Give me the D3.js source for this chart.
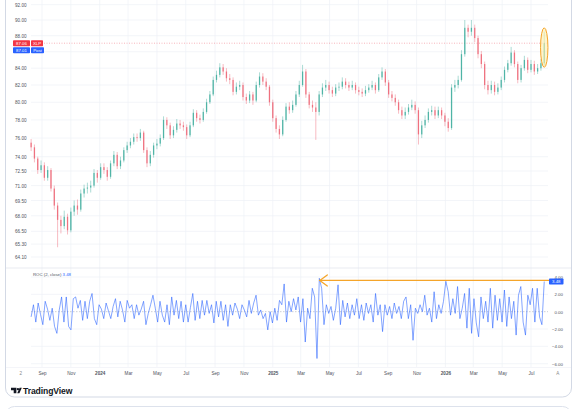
<!DOCTYPE html>
<html><head><meta charset="utf-8">
<script src="https://cdn.jsdelivr.net/npm/d3@7"></script>
<style>html,body{margin:0;padding:0;background:#fff;}svg{display:block;font-family:"Liberation Sans",Arial,sans-serif;}</style>
</head><body><svg id="c" width="577" height="409"></svg>
<script>
// ---- data ----
const firstWeek = "2023-08-09";
const symbol = "XLP";
const lastPrice = 87.06, postPrice = 87.01;
const open = [75.5,75.0,73.8,72.6,73.1,71.8,72.6,70.7,69.0,67.6,
67.0,67.9,66.6,68.4,69.0,68.6,70.2,70.7,70.8,71.0,
72.3,71.8,72.9,72.6,71.9,73.3,74.2,73.0,73.6,74.7,
75.2,75.6,76.1,76.0,76.6,74.7,73.3,74.2,75.2,75.4,
76.0,78.0,77.4,76.3,76.9,77.6,77.4,77.2,76.3,77.4,
78.8,78.2,78.0,78.9,80.0,80.9,82.6,83.2,84.1,83.6,
82.8,82.6,81.2,81.8,82.0,80.6,80.2,80.9,80.2,82.0,
83.0,82.4,81.8,80.0,78.2,77.0,76.4,78.0,79.5,79.1,
79.7,80.9,82.0,83.6,80.9,79.7,79.4,78.9,80.9,81.7,
82.0,81.4,81.0,81.7,81.8,82.4,82.0,81.7,82.0,81.4,
81.2,81.0,81.4,81.7,82.0,81.4,82.9,83.6,82.3,80.9,
80.5,80.0,79.1,78.5,78.9,79.4,79.7,79.1,76.4,77.4,
78.0,78.9,79.1,78.5,79.1,78.5,77.8,77.1,81.7,82.0,
82.6,85.7,89.0,88.5,89.0,87.7,85.7,84.5,82.0,81.4,
82.0,81.2,81.7,82.6,83.8,84.6,85.9,84.5,82.6,84.0,
85.0,83.8,84.5,83.6,84.0,84.6];
const high = [75.9,75.3,74.0,73.6,73.4,73.0,72.8,71.0,69.3,68.0,
68.5,68.2,68.8,69.5,69.6,70.6,71.1,71.3,71.5,72.7,
72.6,73.3,73.3,72.9,73.6,74.6,74.5,74.0,75.0,75.6,
76.0,76.5,76.5,77.0,76.8,75.0,74.6,75.5,75.9,76.4,
78.4,78.3,77.7,77.3,78.1,78.0,77.8,77.5,77.8,79.2,
79.1,78.6,79.3,80.4,81.3,83.0,83.7,84.6,84.5,84.0,
83.3,82.9,82.3,82.5,82.3,81.0,81.3,81.2,82.4,83.5,
83.4,82.8,82.0,80.3,78.5,77.4,78.4,79.9,80.0,80.2,
81.3,82.5,84.4,83.9,81.2,80.2,80.0,81.3,82.2,82.6,
82.4,81.8,82.1,82.3,82.9,82.8,82.4,82.5,82.3,81.8,
81.6,81.9,82.1,82.5,82.3,83.3,84.1,83.9,82.6,81.3,
80.9,80.3,79.5,79.4,79.8,80.3,80.1,79.4,77.9,78.5,
79.3,79.6,79.5,79.5,79.4,78.8,78.2,82.1,82.6,83.1,
86.2,90.0,89.4,90.0,89.4,88.0,86.1,84.8,82.5,82.5,
82.4,82.2,83.0,84.2,85.0,86.6,86.2,84.8,84.4,85.5,
85.3,85.0,84.9,84.5,85.1,88.5];
const low = [74.6,73.4,72.2,72.3,71.5,71.5,70.4,68.6,65.0,66.3,
66.7,66.2,66.4,68.0,68.1,68.4,69.8,70.2,70.3,70.8,
71.3,71.6,72.2,71.5,71.7,73.0,72.7,72.7,73.4,74.4,
74.9,75.3,75.6,75.7,74.4,72.9,73.0,73.9,74.8,75.1,
75.8,77.0,75.9,76.0,76.6,77.0,76.8,75.9,76.1,77.2,
77.8,77.6,77.8,78.7,79.8,80.7,82.3,82.9,83.2,82.4,
82.1,80.8,80.9,81.4,80.2,79.8,79.9,79.7,80.0,81.7,
82.0,81.4,79.6,77.8,76.6,75.9,76.2,77.8,78.7,78.8,
79.5,80.6,81.8,80.5,79.3,78.9,75.8,78.5,80.6,81.3,
81.0,80.6,80.7,81.3,81.5,81.6,81.3,81.4,81.0,80.8,
80.6,80.7,81.1,81.4,81.0,81.2,82.6,81.9,80.5,80.1,
79.6,78.7,78.1,78.1,78.6,79.1,78.7,75.3,76.0,77.1,
77.7,78.5,78.1,78.2,78.1,77.3,76.7,76.9,81.2,81.6,
82.4,85.4,87.8,88.0,87.2,85.2,84.0,81.5,80.9,81.0,
80.8,80.9,81.4,82.3,83.5,84.3,84.1,82.2,82.3,83.7,
83.4,83.5,83.2,83.3,83.7,84.3];
const close = [75.0,73.8,72.6,73.1,71.8,72.6,70.7,69.0,67.6,67.0,
67.9,66.6,68.4,69.0,68.6,70.2,70.7,70.8,71.0,72.3,
71.8,72.9,72.6,71.9,73.3,74.2,73.0,73.6,74.7,75.2,
75.6,76.1,76.0,76.6,74.7,73.3,74.2,75.2,75.4,76.0,
78.0,77.4,76.3,76.9,77.6,77.4,77.2,76.3,77.4,78.8,
78.2,78.0,78.9,80.0,80.9,82.6,83.2,84.1,83.6,82.8,
82.6,81.2,81.8,82.0,80.6,80.2,80.9,80.2,82.0,83.0,
82.4,81.8,80.0,78.2,77.0,76.4,78.0,79.5,79.1,79.7,
80.9,82.0,83.6,80.9,79.7,79.4,78.9,80.9,81.7,82.0,
81.4,81.0,81.7,81.8,82.4,82.0,81.7,82.0,81.4,81.2,
81.0,81.4,81.7,82.0,81.4,82.9,83.6,82.3,80.9,80.5,
80.0,79.1,78.5,78.9,79.4,79.7,79.1,76.4,77.4,78.0,
78.9,79.1,78.5,79.1,78.5,77.8,77.1,81.7,82.0,82.6,
85.7,89.0,88.5,89.0,87.7,85.7,84.5,82.0,81.4,82.0,
81.2,81.7,82.6,83.8,84.6,85.9,84.5,82.6,84.0,85.0,
83.8,84.5,83.6,84.0,84.6,87.06];
const roc = [-0.6,0.8,-1.2,1.0,-0.3,-1.5,1.2,0.3,-1.0,0.4,
-1.7,-2.5,0.2,1.7,-1.2,1.7,-1.7,-2.1,1.5,1.7,
0.4,1.3,-1.0,1.2,-0.8,1.2,2.1,-0.8,-1.5,0.8,
0.3,-0.8,1.0,0.1,-0.8,0.6,1.5,-0.6,1.2,0.2,-1.2,
1.3,0.4,0.8,-0.8,0.8,-0.4,0.3,1.2,-1.5,-0.2,
0.8,1.9,0.4,-1.2,1.2,-0.4,-1.2,0.8,-1.5,1.7,
-0.4,1.3,-0.8,1.2,-1.2,0.8,-1.2,0.5,2.1,-1.0,
1.2,-0.8,1.3,-0.4,1.3,-0.2,0.8,-1.3,1.2,-0.6,
1.2,-1.0,0.8,-1.7,0.8,-0.4,1.0,0.3,-0.8,0.8,0.2,
-0.6,1.3,-0.2,1.0,1.9,-0.4,0.2,-0.8,-0.2,-2.1,
0.0,-1.3,0.4,-1.0,1.3,0.8,3.2,-1.2,1.2,0.0,
1.5,
0.2,1.7,-1.2,1.5,-3.5,0.4,-0.8,2.7,1.7,-5.4,
3.85,2.7,-1.5,0.8,-0.2,0.6,-1.0,0.4,3.1,-1.5,
1.3,-0.6,1.0,-0.8,0.8,-0.4,1.5,-0.8,0.8,-1.0,
1.0,-0.2,0.8,-1.2,2.1,-0.4,0.8,-2.3,0.8,-0.4,
0.6,-0.8,1.0,-0.2,0.6,-0.8,1.2,1.7,-0.8,0.8,
-3.3,0.4,-0.2,0.8,0.0,1.9,-0.4,0.4,-1.2,2.3,
-0.8,0.8,-0.2,1.2,3.5,2.3,-0.4,1.5,-0.2,2.9,
-0.8,0.4,2.1,-1.9,2.7,-2.5,1.5,-1.3,-2.9,1.7,
-0.8,1.2,-1.2,2.7,-1.9,1.9,-1.0,1.5,-1.2,2.5,
-1.7,1.7,-0.8,1.2,-2.7,1.9,2.9,-1.2,-2.7,1.9,
0.8,2.7,-1.2,2.7,-0.6,-1.5,3.48];
const priceGrid = [92,90,88,86,84,82,80,78,76,74,72.5,71,69.5,68,66.5,65.3,64.1];
const priceTicks = [92,90,88,84,82,80,78,76,74,72.5,71,69.5,68,66.5,65.3,64.1];
const rocTicks = [4,2,0,-2,-4,-6];
const timeTicks = ["2023-09-01","2023-11-01","2024-01-01","2024-03-01","2024-05-01","2024-07-01","2024-09-01","2024-11-01","2025-01-01","2025-03-01","2025-05-01","2025-07-01","2025-09-01","2025-11-01","2026-01-01","2026-03-01","2026-05-01","2026-07-01"];
const timeLabels = ["Sep","Nov","2024","Mar","May","Jul","Sep","Nov","2025","Mar","May","Jul","Sep","Nov","2026","Mar","May","Jul"];

// ---- setup ----
const parse = d3.timeParse("%Y-%m-%d");
const svg = d3.select("#c");
const UP = "#22a08f", DN = "#eb4d5f", BLUE = "#2962ff", ORANGE = "#f5a52a", GRID = "#eef1f7", TXT = "#50535e";
const plotL = 31, plotR = 548;

const x = d3.scaleTime().domain([parse("2023-09-01"), parse("2026-07-01")]).range([42, 531]);
const y = d3.scaleLog().domain([64.1, 90]).range([257, 20]);
const yR = d3.scaleLinear().domain([-6, 4]).range([363.7, 277]);
const start = parse(firstWeek);
const weeks = close.map((_, i) => d3.timeDay.offset(start, 7 * i));
const xR = d3.scaleLinear().domain([0, roc.length - 1]).range([x(weeks[0]), x(weeks[weeks.length - 1])]);

// card frames
svg.append("rect").attr("x",5.5).attr("y",-20).attr("width",566).attr("height",417).attr("rx",9)
  .attr("fill","#fff").attr("stroke","#d3d9e5").attr("stroke-width",1);
svg.append("rect").attr("x",5.5).attr("y",406.5).attr("width",566).attr("height",40).attr("rx",9)
  .attr("fill","#fff").attr("stroke","#dde2ec").attr("stroke-width",1);

// grids
const g = svg.append("g");
g.selectAll(".hg").data(priceGrid).join("line")
  .attr("x1",plotL).attr("x2",plotR).attr("y1",d=>y(d)).attr("y2",d=>y(d)).attr("stroke",GRID).attr("stroke-width",0.7);
g.selectAll(".rg").data(rocTicks.filter(d=>d!==0)).join("line")
  .attr("x1",plotL).attr("x2",plotR).attr("y1",d=>yR(d)).attr("y2",d=>yR(d)).attr("stroke",GRID).attr("stroke-width",0.7);
g.selectAll(".vg").data(timeTicks).join("line")
  .attr("x1",d=>x(parse(d))).attr("x2",d=>x(parse(d))).attr("y1",0).attr("y2",367).attr("stroke",GRID).attr("stroke-width",0.7);
// pane separators
svg.append("line").attr("x1",6).attr("x2",571).attr("y1",268).attr("y2",268).attr("stroke","#e3e6ee").attr("stroke-width",0.8);
svg.append("line").attr("x1",6).attr("x2",571).attr("y1",367.5).attr("y2",367.5).attr("stroke","#eceff5").attr("stroke-width",0.6);
// zero line
svg.append("line").attr("x1",plotL).attr("x2",plotR).attr("y1",yR(0)).attr("y2",yR(0))
  .attr("stroke","#a9adb8").attr("stroke-width",0.6).attr("stroke-dasharray","1.5,1.5");

// last price dotted line
svg.append("line").attr("x1",44).attr("x2",plotR).attr("y1",y(lastPrice)).attr("y2",y(lastPrice))
  .attr("stroke",DN).attr("stroke-opacity",0.6).attr("stroke-width",0.7).attr("stroke-dasharray","1,1.5");

// candles
const cw = 1.3;
const cg = svg.append("g");
close.forEach((c, i) => {
  const o = open[i], col = c >= o ? UP : DN, cx = x(weeks[i]);
  cg.append("line").attr("x1",cx).attr("x2",cx).attr("y1",y(high[i])).attr("y2",y(low[i]))
    .attr("stroke",col).attr("stroke-width",0.55).attr("stroke-opacity",0.7);
  const top = y(Math.max(o, c)), bot = y(Math.min(o, c));
  cg.append("rect").attr("x",cx - cw/2).attr("width",cw).attr("y",top).attr("height",Math.max(0.6, bot - top))
    .attr("fill",col).attr("fill-opacity",0.68);
});

// highlight ellipse around last candle
const lastX = x(weeks[weeks.length-1]);
svg.append("ellipse").attr("cx",lastX).attr("cy",(y(89.0)+y(84.1))/2).attr("rx",3.7).attr("ry",(y(84.1)-y(89.0))/2)
  .attr("fill","rgba(255,238,170,0.6)").attr("stroke",ORANGE).attr("stroke-width",1);

// ROC line
svg.append("path").datum(roc)
  .attr("d", d3.line().x((d,i)=>xR(i)).y(d=>yR(d)))
  .attr("fill","none").attr("stroke",BLUE).attr("stroke-opacity",0.68).attr("stroke-width",0.85).attr("stroke-linejoin","round");

// orange arrow from current ROC back to prior high
const iMax = d3.maxIndex(roc.slice(0, roc.length - 1));
const ay = yR(3.6), ax0 = xR(iMax), ax1 = 550;
svg.append("line").attr("x1",ax0).attr("x2",ax1).attr("y1",ay).attr("y2",ay).attr("stroke",ORANGE).attr("stroke-width",1.3);
svg.append("path").attr("d",`M${ax0+8},${ay-5.5}L${ax0+0.5},${ay}L${ax0+8},${ay+5.5}`)
  .attr("fill","none").attr("stroke",ORANGE).attr("stroke-width",1.3).attr("stroke-linecap","round");

// price axis (left)
const pa = svg.append("g").attr("transform","translate(15,0)")
  .call(d3.axisLeft(y).tickValues(priceTicks).tickFormat(d3.format(".2f")).tickSize(0));
pa.select(".domain").remove();
pa.selectAll("text").attr("x",0).attr("text-anchor","start").attr("dy","0.35em")
  .attr("font-size",4.6).attr("fill",TXT).attr("font-family","Liberation Sans, Arial, sans-serif");

// roc axis (right)
const ra = svg.append("g").attr("transform","translate(563,0)")
  .call(d3.axisRight(yR).tickValues(rocTicks).tickFormat(d3.format(".2f")).tickSize(0));
ra.select(".domain").remove();
ra.selectAll("text").attr("x",0).attr("text-anchor","end").attr("dy","0.35em")
  .attr("font-size",4.4).attr("fill",TXT).attr("font-family","Liberation Sans, Arial, sans-serif");

// time axis
const ta = svg.append("g").attr("transform","translate(0,370)")
  .call(d3.axisBottom(x).tickValues(timeTicks.map(parse)).tickFormat((d,i)=>timeLabels[i]).tickSize(0));
ta.select(".domain").remove();
ta.selectAll("text").attr("y",3).attr("dy","0.35em").attr("font-size",4.6).attr("fill",TXT)
  .attr("font-weight",(d,i)=>/^\d/.test(timeLabels[i]) ? 700 : 400)
  .attr("font-family","Liberation Sans, Arial, sans-serif");
svg.append("text").attr("x",20.7).attr("y",373).attr("dy","0.35em").attr("text-anchor","middle")
  .attr("font-size",4.6).attr("fill","#888").text("2");
svg.append("text").attr("x",557.7).attr("y",373).attr("dy","0.35em").attr("text-anchor","middle")
  .attr("font-size",4.6).attr("fill","#888").text("A");

// price badges
function badge(xp, yc, w, h, fill, txt) {
  svg.append("rect").attr("x",xp).attr("y",yc-h/2).attr("width",w).attr("height",h).attr("rx",0.8).attr("fill",fill);
  svg.append("text").attr("x",xp+w/2).attr("y",yc).attr("dy","0.35em").attr("text-anchor","middle")
    .attr("font-size",4.3).attr("fill","#fff").text(txt);
}
badge(13, y(lastPrice), 17, 6, "#f23645", d3.format(".2f")(lastPrice));
badge(31, y(lastPrice), 12, 6, "#f23645", symbol);
badge(13, y(lastPrice)+7, 17, 6, BLUE, d3.format(".2f")(postPrice));
badge(31, y(lastPrice)+7, 13, 6, BLUE, "Post");
badge(549, yR(roc[roc.length-1]), 14.5, 6, BLUE, d3.format(".2f")(roc[roc.length-1]));

// ROC legend
const lg = svg.append("text").attr("x",33).attr("y",274).attr("dy","0.35em").attr("font-size",4.3).attr("fill",TXT);
lg.append("tspan").text("ROC (2, close) ");
lg.append("tspan").attr("fill",BLUE).text(" " + d3.format(".2f")(roc[roc.length-1]));

// TradingView logo
const lgG = svg.append("g").attr("fill","#131722");
lgG.append("path").attr("d","M11,387.8h5.4v5.5h-2.7v-3h-2.7z");
lgG.append("circle").attr("cx",17.9).attr("cy",389.1).attr("r",1.2);
lgG.append("path").attr("d","M19.6,387.8h2.2l-2.4,5.5h-2.2z");
svg.append("text").attr("x",23).attr("y",390.6).attr("dy","0.35em").attr("font-size",8.6).attr("font-weight",700)
  .attr("fill","#131722").attr("letter-spacing",-0.1).text("TradingView");
</script></body></html>
